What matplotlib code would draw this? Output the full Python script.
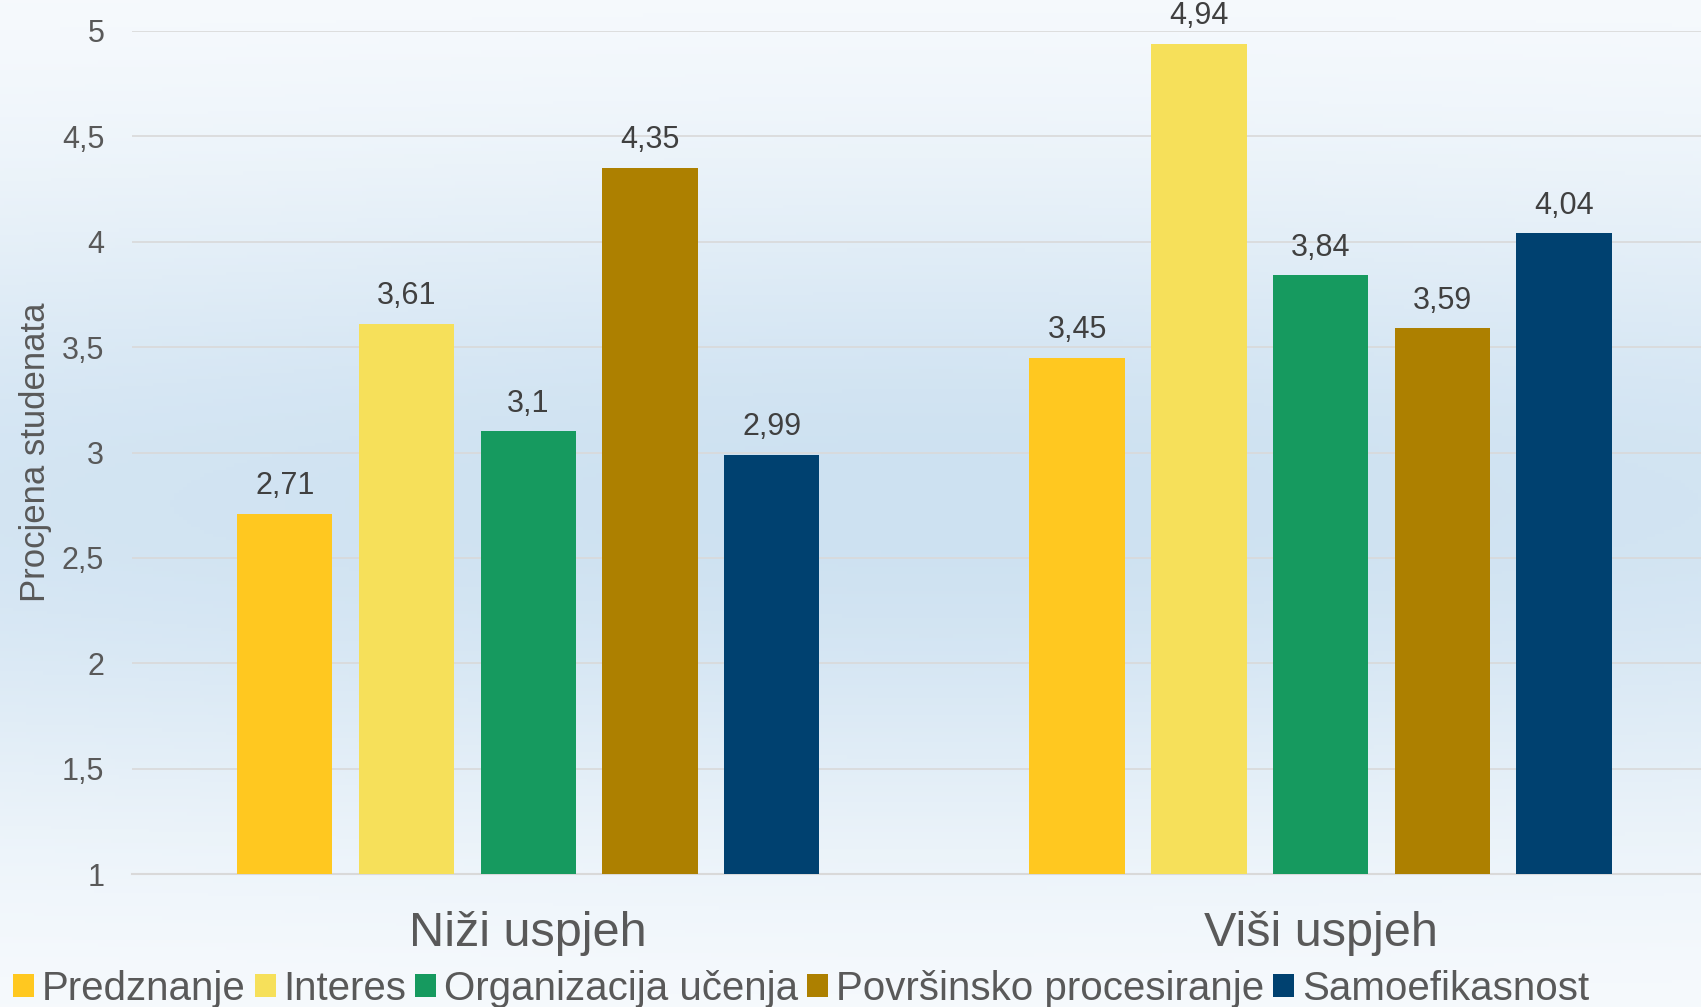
import matplotlib
matplotlib.use("Agg")
import matplotlib.pyplot as plt
import numpy as np

plt.rcParams["font.family"] = ["Liberation Sans", "DejaVu Sans"]

groups = ["Niži uspjeh", "Viši uspjeh"]
series = ["Predznanje", "Interes", "Organizacija učenja",
          "Površinsko procesiranje", "Samoefikasnost"]
values = {
    "Predznanje": [2.71, 3.45],
    "Interes": [3.61, 4.94],
    "Organizacija učenja": [3.10, 3.84],
    "Površinsko procesiranje": [4.35, 3.59],
    "Samoefikasnost": [2.99, 4.04],
}
colors = ["#FFC820", "#F6E05A", "#169A5F", "#AD8000", "#004170"]
yticks = [1, 1.5, 2, 2.5, 3, 3.5, 4, 4.5, 5]

fig = plt.figure(figsize=(17.01, 10.07), dpi=100)

# background gradient (light at top/bottom, blue in the middle)
bg = fig.add_axes([0, 0, 1, 1], zorder=-1)
bg.axis("off")
yy, xx = np.mgrid[0:1:300j, 0:1:400j]
t = np.exp(-((yy - 0.5) / 0.33) ** 2) * (0.8 + 0.2 * np.exp(-((xx - 0.55) / 0.5) ** 2))
c0 = np.array([0xfa, 0xfc, 0xfe]) / 255
c1 = np.array([0xcd, 0xe1, 0xf1]) / 255
img = c0 + (c1 - c0) * t[..., None]
bg.imshow(img, aspect="auto", extent=[0, 1, 0, 1])
bg.set_xlim(0, 1)
bg.set_ylim(0, 1)

ax = fig.add_axes([132 / 1701, 133 / 1007, 1 - 132 / 1701, (874 - 31) / 1007])
ax.set_facecolor("none")

x = np.arange(len(groups))
width = 0.1204
step = 0.1536
for i, name in enumerate(series):
    pos = x + (i - 2) * step
    bars = ax.bar(pos, values[name], width, color=colors[i], label=name,
                  zorder=3, bottom=0)
    for b, v in zip(bars, values[name]):
        ax.annotate(f"{v:g}".replace(".", ","),
                    (b.get_x() + b.get_width() / 2, v),
                    xytext=(0, 9), textcoords="offset points",
                    ha="center", va="bottom", fontsize=22, color="#404040",
                    annotation_clip=False)

ax.set_ylim(1, 5)
ax.set_xlim(-0.5, 1.48)
ax.set_yticks(yticks)
ax.set_yticklabels([f"{v:g}".replace(".", ",") for v in yticks])
ax.yaxis.grid(True, color="#d9d9d9", linewidth=1.2, zorder=0)
ax.set_axisbelow(True)
for s in ["top", "right", "left"]:
    ax.spines[s].set_visible(False)
ax.spines["bottom"].set_color("#d9d9d9")
ax.spines["bottom"].set_linewidth(1.5)
ax.tick_params(axis="y", length=0, pad=20, labelsize=22, labelcolor="#595959")
ax.set_xticks(x)
ax.set_xticklabels(groups)
ax.tick_params(axis="x", length=0, pad=27, labelsize=35, labelcolor="#595959")

ax.set_ylabel("Procjena studenata", fontsize=25, color="#595959")
ax.yaxis.set_label_coords(-(132 - 52) / 1569, 0.5)

fig.legend(loc="center left", bbox_to_anchor=(13 / 1701, 18 / 1007), ncol=5,
           frameon=False, fontsize=29, labelcolor="#595959",
           handlelength=0.52, handleheight=0.52, handletextpad=0.2,
           columnspacing=0.22, borderpad=0, borderaxespad=0)

fig.savefig("out.png", dpi=100)
